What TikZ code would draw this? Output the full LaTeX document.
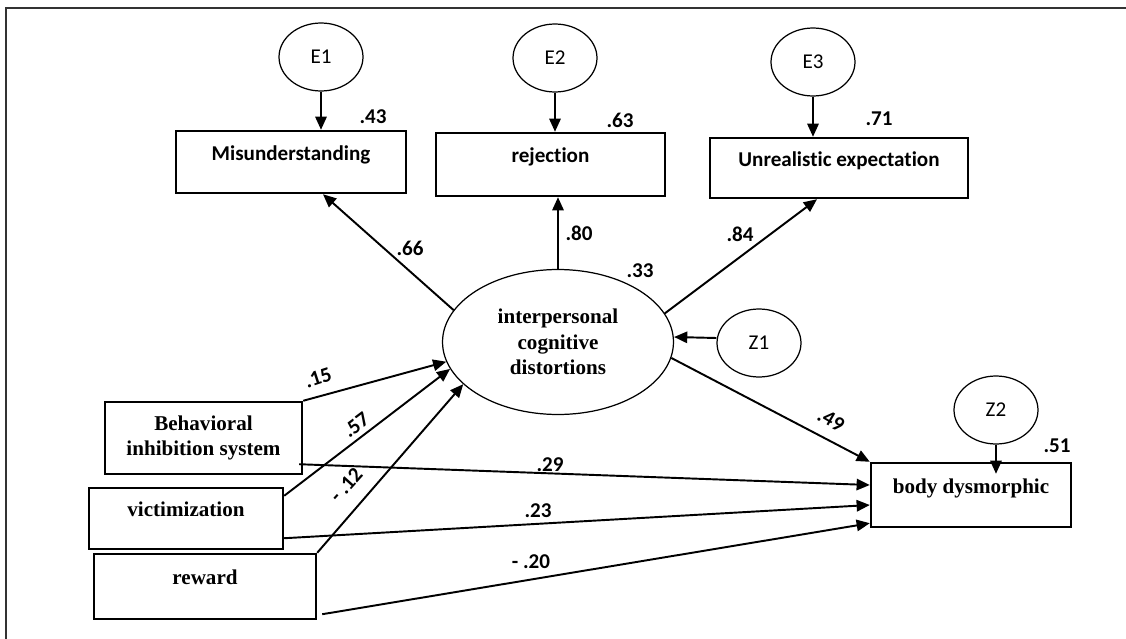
\documentclass[tikz,border=0pt]{standalone}
\usepackage{fontspec}
\setmainfont{Liberation Serif}
\newfontfamily\calibri[RawFeature=-liga, RawFeature=-calt, RawFeature=-clig]{Carlito}
\usetikzlibrary{positioning,shapes.geometric,arrows.meta,calc}

\begin{document}
\begin{tikzpicture}[
    x=0.02cm, y=-0.02cm,
    box/.style={draw, line width=1.4pt, align=center},
    pad/.style={text height=0.3cm, text depth=0.38cm},
    topbox/.style={box, pad, font=\calibri\bfseries\fontsize{12}{14.5}\selectfont},
    sidebox/.style={box, font=\bfseries\fontsize{12}{14.5}\selectfont},
    err/.style={draw, ellipse, line width=0.7pt, minimum width=1.68cm, minimum height=1.36cm, inner sep=0pt, font=\calibri\fontsize{12}{14.5}\selectfont},
    latent/.style={draw, ellipse, line width=0.7pt, minimum width=4.62cm, minimum height=2.9cm, inner sep=0pt, align=center, font=\bfseries\fontsize{12}{14.5}\selectfont},
    coef/.style={inner sep=0pt, font=\calibri\bfseries\fontsize{12}{14.5}\selectfont},
    link/.style={-{Triangle[length=7.5pt,width=6.5pt]}, line width=1.1pt}
]
\useasboundingbox (0,0) rectangle (1126,639);

% Frame
\draw[line width=0.8pt, black!80] (1126,8) -- (6,8) -- (6,639);

% Error terms
\node[err] (e1) at (321,57) {E1};
\node[err] (e2) at (555,58) {E2};
\node[err] (e3) at (813,62) {E3};
\node[err] (z1) at (759,343) {Z1};
\node[err] (z2) at (996,410) {Z2};

% Indicators
\node[topbox, minimum width=4.6cm, minimum height=1.24cm] (mis) at (291,162) {Misunderstanding};
\node[topbox, minimum width=4.58cm, minimum height=1.26cm] (rej) at (550.5,164.5) {rejection};
\node[topbox, minimum width=5.16cm, minimum height=1.2cm] (unr) at (839,168) {Unrealistic expectation};

% Latent variable
\node[latent] (icd) at (558,342) {interpersonal\\cognitive\\distortions};

% Predictors and outcome
\node[sidebox, minimum width=3.94cm, minimum height=1.44cm] (bis) at (203.5,438) {Behavioral\\inhibition system};
\node[sidebox, pad, minimum width=3.88cm, minimum height=1.22cm] (vic) at (186,518.5) {victimization};
\node[sidebox, pad, minimum width=4.44cm, minimum height=1.3cm] (rew) at (205,586.5) {reward};
\node[sidebox, pad, minimum width=4.0cm, minimum height=1.28cm] (bdd) at (971,495) {body dysmorphic};

% Error arrows
\draw[link] (e1) -- (e1 |- mis.north);
\draw[link] (e2) -- (e2 |- rej.north);
\draw[link] (e3) -- (e3 |- unr.north);
\draw[link] (z2) -- ($(z2.south |- bdd.north)+(0,-0.24cm)$);
\draw[link] ([yshift=0.1cm]z1.west) -- ([yshift=0.1cm]icd.east);

% Loadings
\draw[link] (icd.163) -- ([xshift=0.64cm]mis.south);
\draw[link] (icd.north) -- (icd.north |- rej.south);
\draw[link] (icd.15) -- ([xshift=-0.44cm]unr.south);
\draw[link] (icd.-8) -- (bdd.north west);

% Paths to latent variable
\draw[link] (bis.north east) -- (icd.190);
\draw[link] ([yshift=-0.18cm]vic.north east) -- (icd.194);
\draw[link] (rew.north east) -- (icd.204);

% Direct paths
\draw[link] ([shift={(-0.08cm,0.22cm)}]bis.south east) -- ([yshift=0.2cm]bdd.west);
\draw[link] ([yshift=0.24cm]vic.south east) -- ([yshift=-0.2cm]bdd.west);
\draw[link] ([shift={(0.1cm,0.12cm)}]rew.south east) -- ([yshift=0.1cm]bdd.south west);

% Coefficients
\node[coef] (c43) at (373,117) {.43};
\node[coef] (c63) at (620,120) {.63};
\node[coef] (c71) at (879,119) {.71};
\node[coef] (c66) at (410,248) {.66};
\node[coef] (c80) at (579,233) {.80};
\node[coef] (c84) at (740,234) {.84};
\node[coef] (c33) at (640,271) {.33};
\node[coef, rotate=18] (c15) at (318,378) {.15};
\node[coef, rotate=37] (c57) at (356,425) {.57};
\node[coef, rotate=48] (c12) at (346,485) {- .12};
\node[coef] (c29) at (550,465) {.29};
\node[coef] (c23) at (538,511) {.23};
\node[coef] (c20) at (531,562) {- .20};
\node[coef, rotate=-30] (c49) at (831,420) {.49};
\node[coef] (c51) at (1057,446) {.51};
\end{tikzpicture}
\end{document}
